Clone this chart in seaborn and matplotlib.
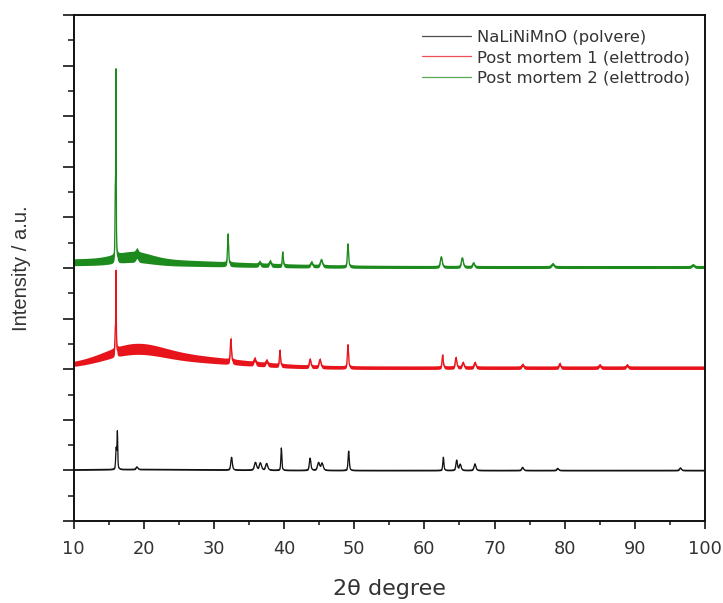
import numpy as np
import pandas as pd
import matplotlib
matplotlib.use("Agg")
import matplotlib.pyplot as plt
import seaborn as sns
from matplotlib.ticker import MultipleLocator, NullFormatter

# ---- diffraction data (2θ in degrees, intensities in stacked a.u.) ----
series_names = ["NaLiNiMnO (polvere)", "Post mortem 1 (elettrodo)", "Post mortem 2 (elettrodo)"]
series_colors = ["#111111", "#e8141c", "#1d8a1d"]

# vertical offset of each pattern in the stack
offsets = [1.0, 3.03, 5.02]

# Bragg reflections: position, height above background, FWHM
black_pos = [16.05, 16.22, 19.0, 32.5, 35.9, 36.6, 37.5, 39.6, 43.7, 44.9, 45.4, 49.2,
             62.7, 64.6, 65.1, 67.2, 74.0, 79.0, 96.5]
black_h = [0.40, 0.72, 0.05, 0.25, 0.15, 0.14, 0.13, 0.44, 0.24, 0.15, 0.14, 0.38,
           0.26, 0.20, 0.12, 0.13, 0.06, 0.04, 0.05]
black_w = [0.16, 0.12, 0.3, 0.25, 0.35, 0.35, 0.35, 0.16, 0.25, 0.35, 0.35, 0.2,
           0.18, 0.25, 0.3, 0.3, 0.3, 0.3, 0.3]

red_pos = [15.92, 16.03, 32.4, 35.8, 37.5, 39.4, 43.7, 45.1, 49.1, 62.6, 64.5, 65.5,
           67.2, 74.0, 79.3, 85.0, 88.9]
red_h = [0.40, 1.62, 0.45, 0.10, 0.08, 0.30, 0.15, 0.15, 0.45, 0.25, 0.20, 0.10,
         0.10, 0.06, 0.08, 0.05, 0.05]
red_w = [0.12, 0.08, 0.2, 0.3, 0.3, 0.18, 0.25, 0.3, 0.2, 0.2, 0.25, 0.3,
         0.3, 0.3, 0.25, 0.3, 0.3]

green_pos = [15.92, 16.02, 19.0, 32.0, 36.5, 38.0, 39.8, 43.9, 45.3, 49.1, 62.4, 65.4,
             67.0, 78.3, 98.3]
green_h = [1.20, 3.60, 0.08, 0.60, 0.06, 0.08, 0.27, 0.08, 0.13, 0.45, 0.20, 0.18,
           0.08, 0.06, 0.04]
green_w = [0.10, 0.08, 0.4, 0.18, 0.3, 0.3, 0.16, 0.3, 0.35, 0.2, 0.3, 0.3,
           0.3, 0.4, 0.4]

# broad amorphous contributions: centre, height, width (sigma)
black_humps = [(20.0, 0.02, 10.0)]
red_humps = [(18.5, 0.22, 4.0), (24.0, 0.18, 9.0)]
green_humps = [(15.0, 0.10, 15.0), (18.5, 0.10, 2.5)]

# counting-noise envelope: base half-width, scale with amorphous background
noise_base = [0.012, 0.035, 0.03]
noise_scale = [0.0, 0.2, 0.4]

two_theta = np.arange(10.0, 100.0001, 0.02)


def reflections(x, pos, h, w):
    y = np.zeros_like(x)
    for p, a, f in zip(pos, h, w):
        hw = f / 2.0
        lor = 1.0 / (1.0 + ((x - p) / hw) ** 2)
        gau = np.exp(-np.log(2) * ((x - p) / hw) ** 2)
        y += a * (0.5 * lor + 0.5 * gau)
    return y


def amorphous(x, humps):
    y = np.zeros_like(x)
    for c, a, s in humps:
        y += a * np.exp(-((x - c) ** 2) / (2 * s ** 2))
    return y


peak_sets = [(black_pos, black_h, black_w), (red_pos, red_h, red_w), (green_pos, green_h, green_w)]
hump_sets = [black_humps, red_humps, green_humps]

frames, bands = [], []
for name, off, peaks, humps, nb, ns in zip(series_names, offsets, peak_sets, hump_sets,
                                           noise_base, noise_scale):
    bg = amorphous(two_theta, humps)
    y = off + bg + reflections(two_theta, *peaks)
    frames.append(pd.DataFrame({"two_theta": two_theta, "intensity": y, "sample": name}))
    bands.append((y, nb + ns * bg))
df = pd.concat(frames, ignore_index=True)

# ---- figure ----
sns.set_style("ticks")
plt.rcParams["font.family"] = ["DejaVu Sans"]

fig = plt.figure(figsize=(7.23, 6.03), dpi=100)
ax = fig.add_axes([0.102, 0.136, 0.873, 0.839])

for (y, hw), col in zip(bands, series_colors):
    ax.fill_between(two_theta, y - hw, y + hw, color=col, lw=0, zorder=1)

sns.lineplot(data=df, x="two_theta", y="intensity", hue="sample", hue_order=series_names,
             palette=series_colors, estimator=None, sort=False, lw=0.9, ax=ax, zorder=2)

ax.set_xlim(10, 100)
ax.set_ylim(0, 10)
ax.xaxis.set_major_locator(MultipleLocator(10))
ax.xaxis.set_minor_locator(MultipleLocator(5))
ax.yaxis.set_major_locator(MultipleLocator(1))
ax.yaxis.set_minor_locator(MultipleLocator(0.5))
ax.yaxis.set_major_formatter(NullFormatter())

for s in ax.spines.values():
    s.set_linewidth(1.4)
    s.set_color("#111111")
    s.set_visible(True)

ax.tick_params(axis="x", which="major", direction="out", length=6, width=1.3,
               labelsize=12.8, labelcolor="#333333", pad=8)
ax.tick_params(axis="x", which="minor", direction="out", length=3, width=1.2)
ax.tick_params(axis="y", which="major", direction="out", length=8, width=1.3)
ax.tick_params(axis="y", which="minor", direction="out", length=4, width=1.2)

ax.set_xlabel("2θ degree", fontsize=16, color="#333333", labelpad=15)
ax.set_ylabel("Intensity / a.u.", fontsize=14.5, color="#333333", labelpad=19,
              family=["Liberation Sans", "DejaVu Sans"])

leg = ax.legend(loc="upper right", bbox_to_anchor=(1.0, 1.0), frameon=False,
                fontsize=11.8, handlelength=3.0, handletextpad=0.35, labelspacing=0.32,
                labelcolor="#333333")
for line in leg.get_lines():
    line.set_linewidth(0.9)
    line.set_alpha(0.75)

fig.savefig("out.png", dpi=100)
